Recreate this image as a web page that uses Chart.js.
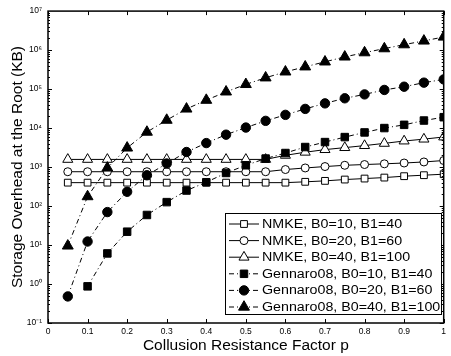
<!DOCTYPE html>
<html>
<head>
<meta charset="utf-8">
<script src="https://cdn.jsdelivr.net/npm/chart.js@4.4.1/dist/chart.umd.min.js"></script>
<style>
  html, body { margin: 0; padding: 0; background: #fff; }
</style>
</head>
<body>
<canvas id="chart" width="451" height="356"></canvas>
<script>
// collusion resistance factor p (x axis)
const pValues = [0.05, 0.1, 0.15, 0.2, 0.25, 0.3, 0.35, 0.4, 0.45, 0.5,
                 0.55, 0.6, 0.65, 0.7, 0.75, 0.8, 0.85, 0.9, 0.95, 1.0];

// storage overhead (KB)
const nmke10 = [398, 398, 398, 398, 398, 398, 398, 398, 398, 398,
                398, 398, 418, 442, 478, 507, 537, 583, 618, 656];
const nmke20 = [759, 759, 759, 759, 759, 759, 759, 759, 759, 759,
                759, 863, 948, 1030, 1110, 1160, 1210, 1270, 1350, 1470];
const nmke40 = [1570, 1570, 1570, 1570, 1570, 1570, 1570, 1570, 1570, 1570,
                1570, 2000, 2400, 2800, 3150, 3550, 4050, 4650, 5200, 5900];
const gen10 = [null, 0.87, 6.1, 22, 59, 126, 250, 408, 705, 1110,
               1650, 2290, 3260, 4370, 5870, 7730, 10000, 12100, 15600, 19000];
const gen20 = [0.48, 12.3, 70, 232, 615, 1230, 2430, 4120, 6760, 10300,
               15300, 21800, 31000, 43000, 58000, 73000, 95000, 115000, 146000, 177000];
const gen40 = [9.5, 175, 950, 3100, 7900, 16000, 31000, 52000, 85000, 132000,
               195000, 277000, 373000, 500000, 670000, 860000, 1090000, 1380000, 1720000, 2170000];

const seriesLabels = [
  "NMKE, B0=10, B1=40",
  "NMKE, B0=20, B1=60",
  "NMKE, B0=40, B1=100",
  "Gennaro08, B0=10, B1=40",
  "Gennaro08, B0=20, B1=60",
  "Gennaro08, B0=40, B1=100"
];

// tick labels
const xTickValues = [0, 0.1, 0.2, 0.3, 0.4, 0.5, 0.6, 0.7, 0.8, 0.9, 1];
const xTickLabels = ["0", "0.1", "0.2", "0.3", "0.4", "0.5", "0.6", "0.7", "0.8", "0.9", "1"];
const yTickValues = [0.1, 1, 10, 100, 1000, 10000, 100000, 1000000, 10000000];
const yTickLabels = ["10\u207B\u00B9", "10\u2070", "10\u00B9", "10\u00B2", "10\u00B3",
                     "10\u2074", "10\u2075", "10\u2076", "10\u2077"];

const FONT = "'Liberation Sans', Arial, sans-serif";

function toPoints(values) {
  return pValues.map((p, i) => ({ x: p, y: values[i] }));
}

function makeSet(label, values, style, radius, filled, dashed) {
  return {
    label: label,
    data: toPoints(values),
    borderColor: "#000",
    borderWidth: 1,
    borderDash: dashed ? [5, 3, 1, 3] : [],
    backgroundColor: filled ? "#000" : "#fff",
    pointBackgroundColor: filled ? "#000" : "#fff",
    pointBorderColor: "#000",
    pointBorderWidth: 1,
    pointStyle: style,
    pointRadius: radius,
    pointHoverRadius: radius,
    tension: 0,
    spanGaps: false
  };
}

const datasets = [
  makeSet(seriesLabels[3], gen10, "rect", 5.3, true, true),
  makeSet(seriesLabels[4], gen20, "circle", 4.7, true, true),
  makeSet(seriesLabels[5], gen40, "triangle", 6.3, true, true),
  makeSet(seriesLabels[0], nmke10, "rect", 4.8, false, false),
  makeSet(seriesLabels[1], nmke20, "circle", 4, false, false),
  makeSet(seriesLabels[2], nmke40, "triangle", 5.8, false, false)
];
// legend order as in the figure
const legendOrder = [3, 4, 5, 0, 1, 2];

// draw a marker like the chart does
function drawMarker(ctx, ds, cx, cy) {
  const r = ds.pointRadius;
  ctx.beginPath();
  if (ds.pointStyle === "rect") {
    const s = Math.SQRT1_2 * r;
    ctx.rect(cx - s, cy - s, 2 * s, 2 * s);
  } else if (ds.pointStyle === "circle") {
    ctx.arc(cx, cy, r, 0, Math.PI * 2);
  } else {
    for (let k = 0; k < 3; k++) {
      const a = k * 2 * Math.PI / 3;
      const px = cx + Math.sin(a) * r, py = cy - Math.cos(a) * r;
      if (k === 0) ctx.moveTo(px, py); else ctx.lineTo(px, py);
    }
    ctx.closePath();
  }
  ctx.fillStyle = ds.pointBackgroundColor;
  ctx.fill();
  ctx.setLineDash([]);
  ctx.strokeStyle = "#000";
  ctx.lineWidth = 1;
  ctx.stroke();
}

// box frame, inward ticks and the boxed legend
const framePlugin = {
  id: "frame",
  afterDraw(chart) {
    const { ctx, chartArea: a, scales } = chart;
    const x = scales.x, y = scales.y;
    ctx.save();
    ctx.strokeStyle = "#000";
    ctx.lineWidth = 1;
    ctx.setLineDash([]);

    // x ticks top and bottom
    xTickValues.forEach((v) => {
      const px = Math.round(x.getPixelForValue(v)) + 0.5;
      ctx.beginPath();
      ctx.moveTo(px, a.bottom); ctx.lineTo(px, a.bottom - 4);
      ctx.moveTo(px, a.top); ctx.lineTo(px, a.top + 4);
      ctx.stroke();
    });
    // y ticks left and right, with minor ones
    for (let e = -1; e < 7; e++) {
      for (let m = 1; m <= 9; m++) {
        const py = Math.round(y.getPixelForValue(m * Math.pow(10, e))) + 0.5;
        const len = m === 1 ? 4 : 2;
        ctx.beginPath();
        ctx.moveTo(a.left, py); ctx.lineTo(a.left + len, py);
        ctx.moveTo(a.right, py); ctx.lineTo(a.right - len, py);
        ctx.stroke();
      }
    }
    ctx.lineWidth = 1.5;
    ctx.strokeRect(a.left, a.top, a.right - a.left, a.bottom - a.top);

    // legend
    const lx = 225.5, ly = 213.5, lw = 216, lh = 101;
    ctx.fillStyle = "#fff";
    ctx.fillRect(lx, ly, lw, lh);
    ctx.lineWidth = 1;
    ctx.strokeRect(lx, ly, lw, lh);
    ctx.font = "12.5px " + FONT;
    ctx.textBaseline = "middle";
    legendOrder.forEach((di, row) => {
      const ds = chart.data.datasets[di];
      const cy = 224 + row * 16.6;
      ctx.strokeStyle = "#000";
      ctx.lineWidth = 1;
      ctx.setLineDash(ds.borderDash);
      ctx.beginPath();
      ctx.moveTo(229, cy); ctx.lineTo(259, cy);
      ctx.stroke();
      drawMarker(ctx, ds, 244, cy);
      // the original font runs a little wider than Arial
      ctx.save();
      ctx.translate(262, cy + 0.5);
      ctx.scale(1.14, 1);
      ctx.fillStyle = "#000";
      ctx.fillText(ds.label, 0, 0);
      ctx.restore();
    });
    ctx.restore();
  }
};

new Chart(document.getElementById("chart"), {
  type: "line",
  data: { datasets: datasets },
  options: {
    responsive: false,
    animation: false,
    events: [],
    layout: { padding: { top: 9, right: 6, left: 0, bottom: 0 } },
    plugins: {
      legend: { display: false },
      tooltip: { enabled: false }
    },
    scales: {
      x: {
        type: "linear",
        min: 0,
        max: 1,
        afterFit: (s) => { s.height = 33; },
        afterBuildTicks: (s) => { s.ticks = xTickValues.map((v) => ({ value: v })); },
        grid: { display: false, drawTicks: false },
        border: { display: false },
        ticks: {
          color: "#000",
          font: { family: FONT, size: 8.5 },
          padding: 4,
          maxRotation: 0,
          callback: (v) => xTickLabels[xTickValues.indexOf(v)]
        },
        title: {
          display: true,
          text: "Collusion Resistance Factor p",
          color: "#000",
          font: { family: FONT, size: 15.5 },
          padding: { top: 0, bottom: 1 }
        }
      },
      y: {
        type: "logarithmic",
        min: 0.1,
        max: 10000000,
        afterFit: (s) => { s.width = 48; },
        afterBuildTicks: (s) => { s.ticks = yTickValues.map((v) => ({ value: v })); },
        grid: { display: false, drawTicks: false },
        border: { display: false },
        ticks: {
          color: "#000",
          font: { family: FONT, size: 8.5 },
          padding: 6,
          callback: (v) => yTickLabels[yTickValues.indexOf(v)]
        },
        title: {
          display: true,
          text: "Storage Overhead at the Root (KB)",
          color: "#000",
          font: { family: FONT, size: 15.5 },
          padding: { top: 8, bottom: 0 }
        }
      }
    }
  },
  plugins: [framePlugin]
});
</script>
</body>
</html>
